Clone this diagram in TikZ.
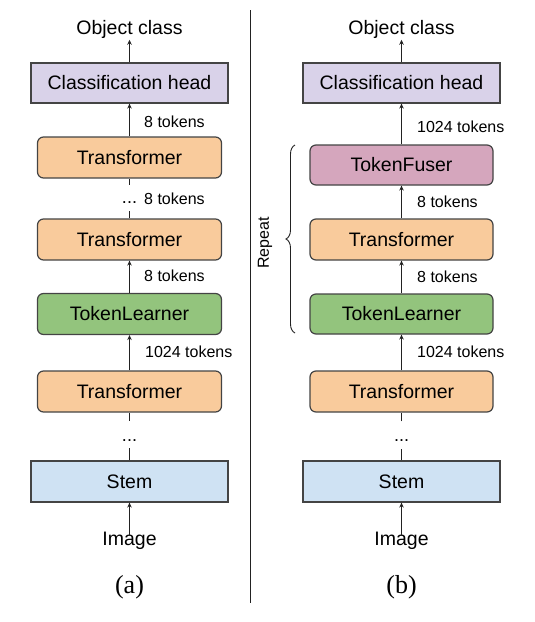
\documentclass[tikz,border=0pt]{standalone}
\usepackage{fontspec}
\setmainfont{Liberation Sans}
\newfontfamily\capfont{Liberation Serif}
\usetikzlibrary{arrows.meta,decorations.pathreplacing}
\definecolor{headfill}{HTML}{D9D2E9}
\definecolor{trfill}{HTML}{F9CB9C}
\definecolor{tlfill}{HTML}{93C47D}
\definecolor{tffill}{HTML}{D5A6BD}
\definecolor{stemfill}{HTML}{CFE2F3}
\definecolor{edgecol}{HTML}{444444}
\definecolor{linecol}{HTML}{222222}
\begin{document}
\begin{tikzpicture}[x=1pt,y=-1pt,
  box/.style={draw=edgecol,line width=1.2pt,inner sep=0pt,
    font=\fontsize{19.5}{23}\selectfont},
  sqbox/.style={box,minimum width=197pt,minimum height=40pt},
  rbox/.style={box,rounded corners=6pt,minimum width=184pt,minimum height=41pt},
  lbl/.style={anchor=west,inner sep=0pt,font=\fontsize{16}{19}\selectfont},
  ttl/.style={anchor=base,inner sep=0pt,font=\fontsize{19.5}{23}\selectfont},
  captxt/.style={anchor=base,inner sep=0pt,font=\capfont\fontsize{26}{30}\selectfont},
  dotsA/.style={inner sep=0pt,text height=18pt,text depth=8pt,font=\fontsize{18}{20}\selectfont},
  dotsB/.style={inner sep=0pt,text height=20pt,text depth=7pt,font=\fontsize{18}{20}\selectfont},
  arr/.style={draw=linecol,line width=1pt,-{Stealth[length=5pt,width=4.5pt]}},
  seg/.style={draw=linecol,line width=1pt}
]
\useasboundingbox (0,0) rectangle (535,622);

% separator
\coordinate (sepT) at (250,10);
\coordinate (sepB) at (250,603);
\draw[draw=linecol,line width=0.9pt] (sepT) -- (sepB);

% ---------------- (a) ----------------
\node[ttl] (objA) at (129.5,34.5) {Object class};
\node[sqbox,fill=headfill] (headA) at (129.5,83) {Classification head};
\node[rbox,fill=trfill] (trA1) at (129.5,157.5) {Transformer};
\node[dotsA] (dA1) at (129.5,198) {...};
\node[rbox,fill=trfill] (trA2) at (129.5,239.5) {Transformer};
\node[rbox,fill=tlfill] (tlA) at (129.5,314) {TokenLearner};
\node[rbox,fill=trfill] (trA3) at (129.5,391.5) {Transformer};
\node[dotsB] (dA2) at (129.5,434.5) {...};
\node[sqbox,fill=stemfill,minimum height=41pt] (stemA) at (129.5,481.5) {Stem};
\node[ttl] (imgA) at (129.5,545.5) {Image};
\node[captxt] (capA) at (129.5,593) {(a)};

\draw[arr,shorten >=1pt] (headA.north) -- (objA.south);
\draw[arr] (trA1.north) -- (headA.south);
\draw[seg] (trA2.north) -- (dA1.south);
\draw[seg] (dA1.north) -- (trA1.south);
\draw[arr] (tlA.north) -- (trA2.south);
\draw[arr] (trA3.north) -- (tlA.south);
\draw[seg] (stemA.north) -- (dA2.south);
\draw[seg] (dA2.north) -- (trA3.south);
\draw[arr,shorten <=-4pt] (imgA.north) -- (stemA.south);

\node[lbl] (lA1) at (144,121.5) {8 tokens};
\node[lbl] (lA2) at (144,199) {8 tokens};
\node[lbl] (lA3) at (144,276) {8 tokens};
\node[lbl] (lA4) at (145,352) {1024 tokens};

% ---------------- (b) ----------------
\node[ttl] (objB) at (401.5,34.5) {Object class};
\node[sqbox,fill=headfill] (headB) at (401.5,83) {Classification head};
\node[rbox,fill=tffill,minimum width=183pt,minimum height=40pt] (tfB) at (401.5,165) {TokenFuser};
\node[rbox,fill=trfill,minimum width=183pt] (trB1) at (401.5,239.5) {Transformer};
\node[rbox,fill=tlfill,minimum width=183pt,minimum height=40pt] (tlB) at (401.5,314) {TokenLearner};
\node[rbox,fill=trfill,minimum width=183pt] (trB2) at (401.5,391.5) {Transformer};
\node[dotsB] (dB) at (401.5,435) {...};
\node[sqbox,fill=stemfill,minimum height=41pt] (stemB) at (401.5,481.5) {Stem};
\node[ttl] (imgB) at (401.5,545.5) {Image};
\node[captxt] (capB) at (401.5,593) {(b)};

\draw[arr,shorten >=1pt] (headB.north) -- (objB.south);
\draw[arr] (tfB.north) -- (headB.south);
\draw[arr] (trB1.north) -- (tfB.south);
\draw[arr] (tlB.north) -- (trB1.south);
\draw[arr] (trB2.north) -- (tlB.south);
\draw[seg] (stemB.north) -- (dB.south);
\draw[seg] (dB.north) -- (trB2.south);
\draw[arr,shorten <=-4pt] (imgB.north) -- (stemB.south);

\node[lbl] (lB1) at (417,127) {1024 tokens};
\node[lbl] (lB2) at (417,202) {8 tokens};
\node[lbl] (lB3) at (417,277) {8 tokens};
\node[lbl] (lB4) at (417,352) {1024 tokens};

% brace
\coordinate (brB) at (295,333);
\coordinate (brT) at (295,145);
\draw[draw=linecol,line width=0.9pt,decorate,decoration={brace,amplitude=9pt}] (brB) -- (brT);
\node[inner sep=0pt,rotate=90,font=\fontsize{16}{19}\selectfont] (rep) at (265,243) {Repeat};
\end{tikzpicture}
\end{document}
